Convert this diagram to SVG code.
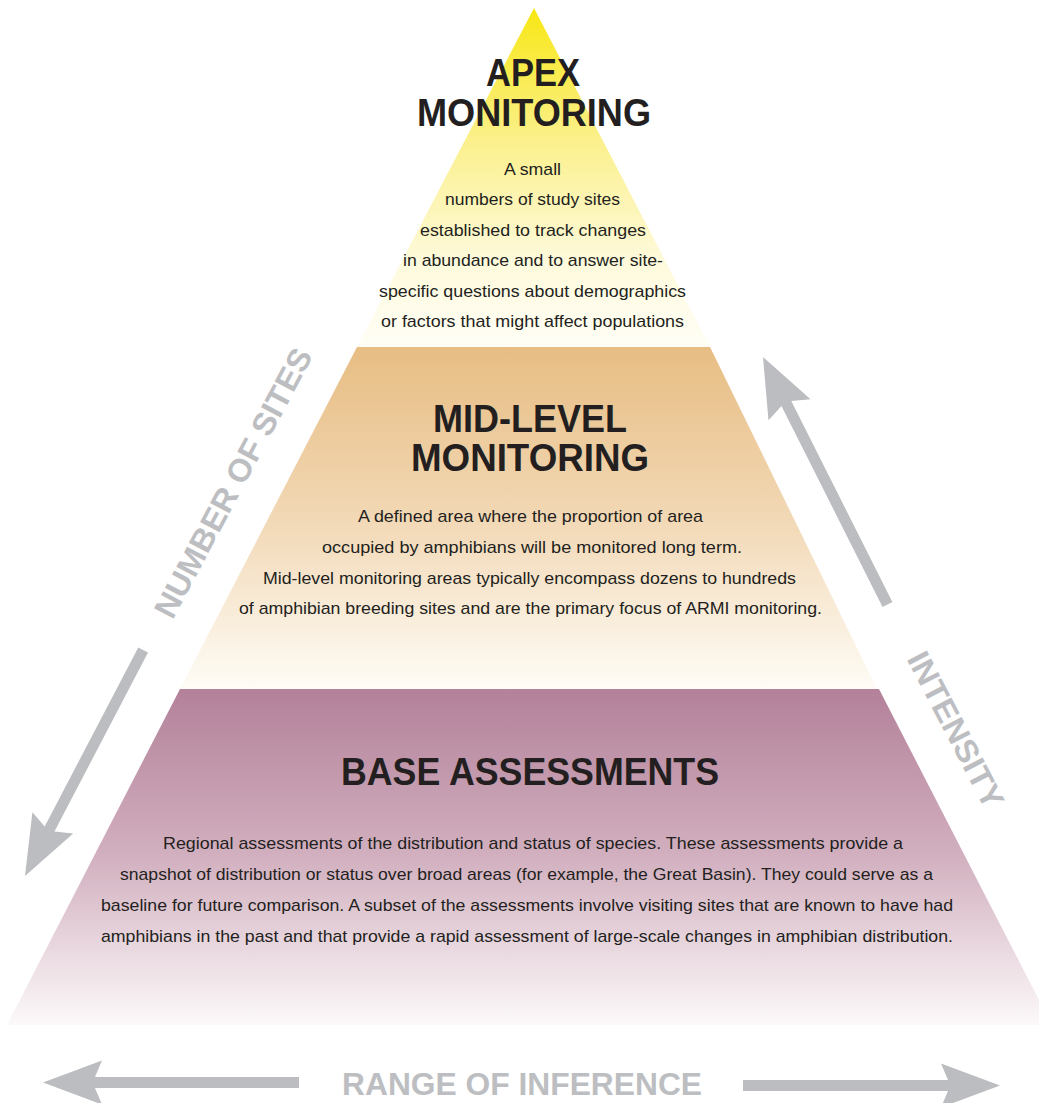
<svg xmlns="http://www.w3.org/2000/svg" width="1039" height="1103" viewBox="0 0 1039 1103">
  <defs>
    <linearGradient id="gApex" gradientUnits="userSpaceOnUse" x1="0" y1="8" x2="0" y2="347">
      <stop offset="0" stop-color="#f8e714"/>
      <stop offset="0.4" stop-color="#fbf08e"/>
      <stop offset="0.75" stop-color="#fefadc"/>
      <stop offset="1" stop-color="#fffef6"/>
    </linearGradient>
    <linearGradient id="gMid" gradientUnits="userSpaceOnUse" x1="0" y1="347" x2="0" y2="689">
      <stop offset="0" stop-color="#e7bd83"/>
      <stop offset="0.5" stop-color="#f2d8b5"/>
      <stop offset="1" stop-color="#fefcf6"/>
    </linearGradient>
    <linearGradient id="gBase" gradientUnits="userSpaceOnUse" x1="0" y1="689" x2="0" y2="1025">
      <stop offset="0" stop-color="#b3819a"/>
      <stop offset="0.5" stop-color="#d2b0bf"/>
      <stop offset="1" stop-color="#fcf9fa"/>
    </linearGradient>
    <style>
      .head { font-family: "Liberation Sans", Arial, sans-serif; font-weight: bold; font-size: 38px; fill: #231f20; text-anchor: middle; }
      .body { font-family: "Liberation Sans Narrow", "Liberation Sans", Arial, sans-serif; font-size: 17px; fill: #231f20; text-anchor: middle; }
      .axis { font-family: "Liberation Sans", Arial, sans-serif; font-weight: bold; font-size: 32px; fill: #bdbec1; text-anchor: middle; }
      .arrow { fill: #bcbdc0; }
    </style>
  </defs>
  <rect width="1039" height="1103" fill="#ffffff"/>

  <g id="base">
    <polygon points="180,689 879,689 1039,1000 1039,1025 7,1025" fill="url(#gBase)"/>
    <text class="head" x="530" y="785" textLength="378" lengthAdjust="spacingAndGlyphs">BASE ASSESSMENTS</text>
    <text class="body" x="533" y="849" textLength="740" lengthAdjust="spacingAndGlyphs">Regional assessments of the distribution and status of species. These assessments provide a</text>
    <text class="body" x="526.5" y="880" textLength="813" lengthAdjust="spacingAndGlyphs">snapshot of distribution or status over broad areas (for example, the Great Basin). They could serve as a</text>
    <text class="body" x="527" y="911" textLength="852" lengthAdjust="spacingAndGlyphs">baseline for future comparison. A subset of the assessments involve visiting sites that are known to have had</text>
    <text class="body" x="527" y="942" textLength="852" lengthAdjust="spacingAndGlyphs">amphibians in the past and that provide a rapid assessment of large-scale changes in amphibian distribution.</text>
  </g>

  <g id="mid-level">
    <polygon points="357,347 710,347 877,689 180,689" fill="url(#gMid)"/>
    <text class="head" x="530" y="432" textLength="194" lengthAdjust="spacingAndGlyphs">MID-LEVEL</text>
    <text class="head" x="530" y="471" textLength="238" lengthAdjust="spacingAndGlyphs">MONITORING</text>
    <text class="body" x="530.5" y="522" textLength="345" lengthAdjust="spacingAndGlyphs">A defined area where the proportion of area</text>
    <text class="body" x="532" y="553" textLength="420" lengthAdjust="spacingAndGlyphs">occupied by amphibians will be monitored long term.</text>
    <text class="body" x="529.5" y="584" textLength="533" lengthAdjust="spacingAndGlyphs">Mid-level monitoring areas typically encompass dozens to hundreds</text>
    <text class="body" x="530.5" y="614" textLength="583" lengthAdjust="spacingAndGlyphs">of amphibian breeding sites and are the primary focus of ARMI monitoring.</text>
  </g>

  <g id="apex">
    <polygon points="534,8 710,347 357,347" fill="url(#gApex)"/>
    <text class="head" x="533" y="86" textLength="94" lengthAdjust="spacingAndGlyphs">APEX</text>
    <text class="head" x="534" y="126" textLength="234" lengthAdjust="spacingAndGlyphs">MONITORING</text>
    <text class="body" x="532.5" y="175" textLength="57" lengthAdjust="spacingAndGlyphs">A small</text>
    <text class="body" x="532.5" y="205" textLength="175" lengthAdjust="spacingAndGlyphs">numbers of study sites</text>
    <text class="body" x="533" y="236" textLength="226" lengthAdjust="spacingAndGlyphs">established to track changes</text>
    <text class="body" x="533" y="266" textLength="260" lengthAdjust="spacingAndGlyphs">in abundance and to answer site-</text>
    <text class="body" x="532.5" y="297" textLength="307" lengthAdjust="spacingAndGlyphs">specific questions about demographics</text>
    <text class="body" x="532.5" y="327" textLength="303" lengthAdjust="spacingAndGlyphs">or factors that might affect populations</text>
  </g>

  <g id="axes">
    <path class="arrow" transform="translate(43,1082.5)" d="M0,0 L59,-22 L52,-5.5 L256,-5.5 L256,5.5 L52,5.5 L59,22 Z"/>
    <path class="arrow" transform="translate(1000,1085.5) rotate(180)" d="M0,0 L59,-22 L52,-5.5 L257,-5.5 L257,5.5 L52,5.5 L59,22 Z"/>
    <path class="arrow" transform="translate(25,876) rotate(-62.4)" d="M0,0 L60,-23 L53,-5.5 L255,-5.5 L255,5.5 L53,5.5 L60,23 Z"/>
    <path class="arrow" transform="translate(763,357) rotate(63.3)" d="M0,0 L59,-23.5 L52,-5.5 L277,-5.5 L277,5.5 L52,5.5 L59,23.5 Z"/>
  </g>

  <g id="labels">
    <text class="axis" x="522" y="1095" textLength="360" lengthAdjust="spacingAndGlyphs">RANGE OF INFERENCE</text>
    <text class="axis" transform="translate(243,488) rotate(-62)" x="0" y="0" textLength="300" lengthAdjust="spacingAndGlyphs">NUMBER OF SITES</text>
    <text class="axis" transform="translate(946,735) rotate(62.5)" x="0" y="0" textLength="172" lengthAdjust="spacingAndGlyphs">INTENSITY</text>
  </g>
</svg>
